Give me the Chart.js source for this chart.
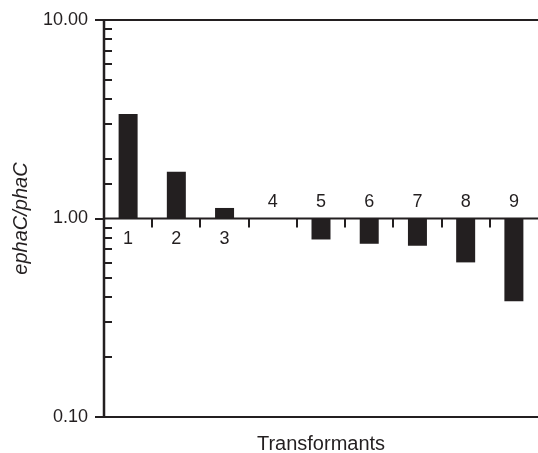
<!DOCTYPE html>
<html>
<head>
<meta charset="utf-8">
<script src="https://cdn.jsdelivr.net/npm/chart.js@4.4.1/dist/chart.umd.min.js"></script>
<style>
    html, body { margin: 0; padding: 0; background: #fff; }
    #wrap { width: 538px; height: 453px; }
</style>
</head>
<body>
<div id="wrap"><canvas id="chart_ratio"></canvas></div>
<script>
var transformants = ['1', '2', '3', '4', '5', '6', '7', '8', '9'];
var ratio = [3.36, 1.72, 1.13, 1.0, 0.784, 0.746, 0.729, 0.601, 0.383];
var yMajorTicks = [0.1, 1, 10];

var ink = '#231f20';
var fontFamily = '"Liberation Sans", Arial, sans-serif';

// bars float from 1.0 to the ratio
var barData = ratio.map(function (v) { return [1, v]; });

var axesPlugin = {
    id: 'axesPlugin',
    afterDraw: function (chart) {
        var ctx = chart.ctx;
        var area = chart.chartArea;
        var x = chart.scales.x;
        var y = chart.scales.y;
        var y1 = y.getPixelForValue(1);
        ctx.save();
        ctx.strokeStyle = ink;
        ctx.fillStyle = ink;

        // frame lines
        ctx.lineWidth = 2;
        ctx.beginPath();
        ctx.moveTo(area.left, y.getPixelForValue(10));
        ctx.lineTo(area.right, y.getPixelForValue(10));
        ctx.moveTo(area.left, y.getPixelForValue(0.1));
        ctx.lineTo(area.right, y.getPixelForValue(0.1));
        ctx.moveTo(area.left, y1);
        ctx.lineTo(area.right, y1);
        ctx.stroke();
        ctx.lineWidth = 2.5;
        ctx.beginPath();
        ctx.moveTo(area.left, area.top - 1);
        ctx.lineTo(area.left, area.bottom + 1);
        ctx.stroke();

        // y ticks: majors outside, minors inside
        ctx.lineWidth = 2;
        y.ticks.forEach(function (t) {
            var py = Math.round(y.getPixelForValue(t.value));
            var isMajor = yMajorTicks.indexOf(t.value) >= 0;
            ctx.beginPath();
            if (isMajor) {
                ctx.moveTo(area.left - 9, py);
                ctx.lineTo(area.left, py);
            } else {
                ctx.moveTo(area.left, py);
                ctx.lineTo(area.left + 8, py);
            }
            ctx.stroke();
        });

        // x ticks between categories, below the 1.0 line
        for (var i = 0; i < transformants.length - 1; i++) {
            var px = Math.round((x.getPixelForTick(i) + x.getPixelForTick(i + 1)) / 2);
            ctx.beginPath();
            ctx.moveTo(px, y1);
            ctx.lineTo(px, y1 + 9);
            ctx.stroke();
        }

        // category labels
        ctx.font = '18px ' + fontFamily;
        ctx.textAlign = 'center';
        ctx.textBaseline = 'middle';
        transformants.forEach(function (lab, i) {
            var px = x.getPixelForTick(i);
            var py = ratio[i] > 1 ? y1 + 21 : y1 - 16;
            ctx.fillText(lab, px, py);
        });

        // axis titles
        ctx.font = '20px ' + fontFamily;
        ctx.textBaseline = 'alphabetic';
        ctx.fillText('Transformants', (area.left + area.right) / 2, 450);
        ctx.save();
        ctx.translate(21, (area.top + area.bottom) / 2);
        ctx.rotate(-Math.PI / 2);
        ctx.font = 'italic 20px ' + fontFamily;
        ctx.textBaseline = 'middle';
        ctx.fillText('ephaC/phaC', 0, 0);
        ctx.restore();

        ctx.restore();
    }
};

var ctx = document.getElementById('chart_ratio');
new Chart(ctx, {
    type: 'bar',
    data: {
        labels: transformants,
        datasets: [{
            data: barData,
            backgroundColor: ink,
            borderWidth: 0,
            barPercentage: 0.394,
            categoryPercentage: 1.0
        }]
    },
    plugins: [axesPlugin],
    options: {
        responsive: true,
        maintainAspectRatio: false,
        animation: false,
        layout: {
            padding: { top: 20, right: 0, bottom: 36, left: 0 }
        },
        plugins: {
            legend: { display: false },
            tooltip: { enabled: false }
        },
        scales: {
            x: {
                display: false
            },
            y: {
                type: 'logarithmic',
                min: 0.1,
                max: 10,
                afterFit: function (scale) {
                    scale.width = 104;
                    scale.paddingTop = 0;
                    scale.paddingBottom = 0;
                },
                grid: { display: false, drawTicks: false },
                border: { display: false },
                ticks: {
                    autoSkip: false,
                    padding: 16,
                    color: ink,
                    font: { family: fontFamily, size: 18 },
                    callback: function (value) {
                        return yMajorTicks.indexOf(value) >= 0 ? value.toFixed(2) : '';
                    }
                }
            }
        }
    }
});
</script>
</body>
</html>
